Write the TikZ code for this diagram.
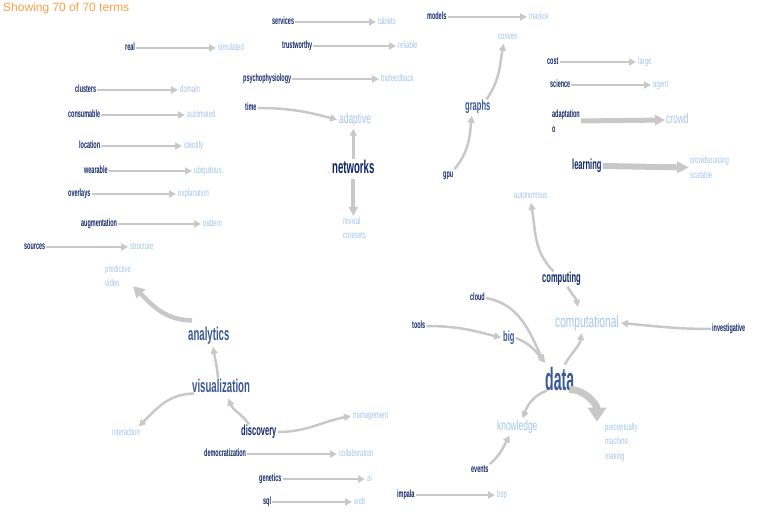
\documentclass[tikz,border=0pt]{standalone}
\usepackage{fontspec}
\setmainfont{Liberation Sans}
\newfontfamily\cf[FakeStretch=0.6]{Liberation Sans}
\newfontfamily\cfb[FakeStretch=0.52]{Liberation Sans}
\newfontfamily\dfb[FakeStretch=0.44]{Liberation Sans}
\usetikzlibrary{arrows.meta,calc}
\definecolor{navy}{HTML}{0F2567}
\definecolor{med}{HTML}{3A5896}
\definecolor{lite}{HTML}{A3C4EA}
\definecolor{arc}{HTML}{C8C8C8}
\definecolor{orng}{HTML}{F7A047}
\tikzset{
  lbl/.style={inner sep=1pt, anchor=west},
  sm/.style={lbl, font=\cf\fontsize{10}{14.5}\selectfont, text height=7.2pt, text depth=2.1pt},
  smb/.style={lbl, font=\cfb\bfseries\fontsize{10.5}{14.5}\selectfont, text height=7.2pt, text depth=2.1pt},
  md/.style={lbl, font=\cf\fontsize{14}{17}\selectfont, text height=10pt, text depth=3pt},
  mdb/.style={lbl, font=\cfb\bfseries\fontsize{14.5}{17}\selectfont, text height=10pt, text depth=3pt},
  lgb/.style={lbl, font=\cfb\bfseries\fontsize{18.5}{22}\selectfont, text height=13pt, text depth=3.8pt},
  cp/.style={lbl, font=\cf\fontsize{17}{20}\selectfont, text height=12.3pt, text depth=3.6pt, text=lite},
  datast/.style={inner sep=1pt, anchor=base west, font=\dfb\bfseries\fontsize{32}{36}\selectfont, text=med},
  src/.style={smb, text=navy},
  tgt/.style={sm, text=lite},
  mlsrc/.style={lbl, align=left, font=\cfb\bfseries\fontsize{10.5}{14.5}\selectfont, text=navy},
  mltgt/.style={lbl, align=left, font=\cf\fontsize{10}{14.5}\selectfont, text=lite},
  ar/.style={draw=arc, line width=2.5pt, -{Triangle[length=7pt,width=7pt]}, shorten >=1pt},
  arfour/.style={draw=arc, line width=4pt, -{Triangle[length=9pt,width=9pt]}},
  arfive/.style={draw=arc, line width=5pt, -{Triangle[length=10pt,width=10pt]}},
  arsix/.style={draw=arc, line width=6pt, -{Triangle[length=12pt,width=11pt]}},
  arhalf/.style={draw=arc, line width=4.5pt, -{Triangle[length=11pt,width=12pt]}},
  arseven/.style={draw=arc, line width=7pt, -{Triangle[length=14pt,width=18pt]}},
}
\begin{document}
\begin{tikzpicture}[x=1pt,y=1pt]
\useasboundingbox (0,0) rectangle (769,520);
\node[anchor=base west, inner sep=0pt, font=\fontsize{12}{14}\selectfont, text=orng] (hdr) at (3,508) {Showing 70 of 70 terms};

% left column
\node[src] (real) at (124,472) {real};
\node[tgt] (simulated) at (217,472) {simulated};
\node[src] (clusters) at (74,430) {clusters};
\node[tgt] (domain) at (179,430) {domain};
\node[src] (consumable) at (67,405) {consumable};
\node[tgt] (automated) at (186,405) {automated};
\node[src] (location) at (78,374) {location};
\node[tgt] (identify) at (183,374) {identify};
\node[src] (wearable) at (83,349) {wearable};
\node[tgt] (ubiquitous) at (193,349) {ubiquitous};
\node[src] (overlays) at (67,326) {overlays};
\node[tgt] (explanation) at (177,326) {explanation};
\node[src] (augmentation) at (80,296) {augmentation};
\node[tgt] (pattern) at (202,296) {pattern};
\node[src] (sources) at (23,273) {sources};
\node[tgt] (structure) at (129,273) {structure};

% top middle
\node[src] (services) at (271,498) {services};
\node[tgt] (tablets) at (377,498) {tablets};
\node[src] (trustworthy) at (281,474) {trustworthy};
\node[tgt] (reliable) at (397,474) {reliable};
\node[src] (psycho) at (242,441) {psychophysiology};
\node[tgt] (biofeedback) at (380,441) {biofeedback};
\node[src] (models) at (426,503) {models};
\node[tgt] (markov) at (528,503) {markov};

% top right
\node[src] (cost) at (546,458) {cost};
\node[tgt] (large) at (637,458) {large};
\node[src] (science) at (549,435) {science};
\node[tgt] (agent) at (652,435) {agent};
\node[mlsrc] (adaptation) at (551,399) {adaptation\\o};
\node[md, text=lite] (crowd) at (665,400) {crowd};
\node[mdb, text=navy] (learning) at (571,354) {learning};
\node[mltgt] (crowdsourcing) at (689,352.5) {crowdsourcing\\scalable};

% networks cluster
\node[src] (time) at (244,412) {time};
\node[md, text=lite] (adaptive) at (338,400) {adaptive};
\node[lgb, text=navy] (networks) at (331,351) {networks};
\node[mltgt] (revival) at (342,292) {revival\\coresets};

% graphs
\node[src] (gpu) at (442,345) {gpu};
\node[mdb, text=med] (graphs) at (464,413) {graphs};
\node[tgt] (convex) at (497,483) {convex};

% data cluster
\node[tgt] (autonomous) at (513,324) {autonomous};
\node[mdb, text=navy] (computing) at (541,241) {computing};
\node[cp] (computational) at (554,197) {computational};
\node[src] (investigative) at (711,191) {investigative};
\node[src] (cloud) at (469,222) {cloud};
\node[src] (tools) at (411,194) {tools};
\node[mdb, text=med] (big) at (502,182) {big};
\node[datast] (data) at (544,129) {data};
\node[md, text=lite] (knowledge) at (496,93) {knowledge};
\node[mltgt] (perc) at (604,78) {perceptually\\machine\\making};
\node[src] (events) at (470,50) {events};
\node[src] (impala) at (396,25) {impala};
\node[tgt] (bsp) at (496,25) {bsp};

% analytics cluster
\node[lgb, text=med] (analytics) at (187,184) {analytics};
\node[mltgt] (predictive) at (104,244) {predictive\\video};
\node[lgb, text=med] (vis) at (191,132) {visualization};
\node[tgt] (interaction) at (111,87) {interaction};
\node[mdb, text=navy] (discovery) at (240,88) {discovery};
\node[tgt] (management) at (352,104) {management};
\node[src] (democratization) at (203,66) {democratization};
\node[tgt] (collaboration) at (338,66) {collaboration};
\node[src] (genetics) at (258,41) {genetics};
\node[tgt] (ai) at (366,41) {ai};
\node[src] (sql) at (262,18) {sql};
\node[tgt] (web) at (353,18) {web};

% straight connectors
\foreach \a/\b in {real/simulated, clusters/domain, consumable/automated, location/identify,
  wearable/ubiquitous, overlays/explanation, augmentation/pattern, sources/structure,
  services/tablets, trustworthy/reliable, psycho/biofeedback, models/markov,
  cost/large, science/agent, democratization/collaboration, genetics/ai, sql/web, impala/bsp}
  \draw[ar] (\a.east) -- (\b.west);

\draw[arfive] (adaptation.east) -- (crowd.west);
\draw[arsix] (learning.east) -- (crowdsourcing.west);

% networks
\draw[ar] (time.east) to[out=0,in=165] (adaptive.west);
\draw[ar] (networks.north) -- (networks.north |- adaptive.south);
\draw[arfour] (networks.south) -- (networks.south |- revival.north);

% graphs
\draw[ar] (gpu.north east) to[out=50,in=-95] ($(graphs.south)+(-6,0)$);
\draw[ar] ($(graphs.north east)+(-5,0)$) to[out=55,in=-100] ($(convex.south)+(-4,0)$);

% data cluster
\draw[ar] ($(computing.north)+(-8,0)$) to[out=135,in=-80] (autonomous.south);
\draw[ar] ($(computing.south)+(6,0)$) to[out=-60,in=100] ($(computational.north)+(-9,6)$);
\draw[ar] (investigative.west) to[out=180,in=-5] (computational.east);
\draw[ar] (cloud.east) to[out=-10,in=115] ($(data.north west)+(0,4)$);
\draw[ar] (tools.east) to[out=0,in=165] (big.west);
\draw[ar] (big.east) to[out=-20,in=130] ($(data.north west)+(2,3)$);
\draw[ar] ($(data.north)+(5,2)$) to[out=60,in=-100] ($(computational.south)+(-5,0)$);
\draw[ar] ($(data.south west)+(3,2)$) to[out=-160,in=70] ($(knowledge.north)+(5,0)$);
\draw[arseven] ($(data.south east)+(-6,3)$) to[out=0,in=90] ($(perc.north west)+(-7,0)$);
\draw[ar] (events.north east) to[out=40,in=-120] ($(knowledge.south)+(-7,0)$);

% analytics cluster
\draw[arhalf] ($(analytics.north west)+(5,6)$) to[out=180,in=-45] ($(predictive.south east)+(1,2)$);
\draw[ar] ($(vis.north)+(-3,0)$) to[out=95,in=-80] ($(analytics.south)+(4,0)$);
\draw[ar] ($(vis.south west)+(3,4)$) to[out=180,in=45] ($(interaction.north east)+(-3,0)$);
\draw[ar] ($(discovery.north west)+(9,0)$) to[out=125,in=-70] ($(vis.south)+(7,0)$);
\draw[ar] (discovery.east) to[out=0,in=-170] (management.west);
\end{tikzpicture}
\end{document}
